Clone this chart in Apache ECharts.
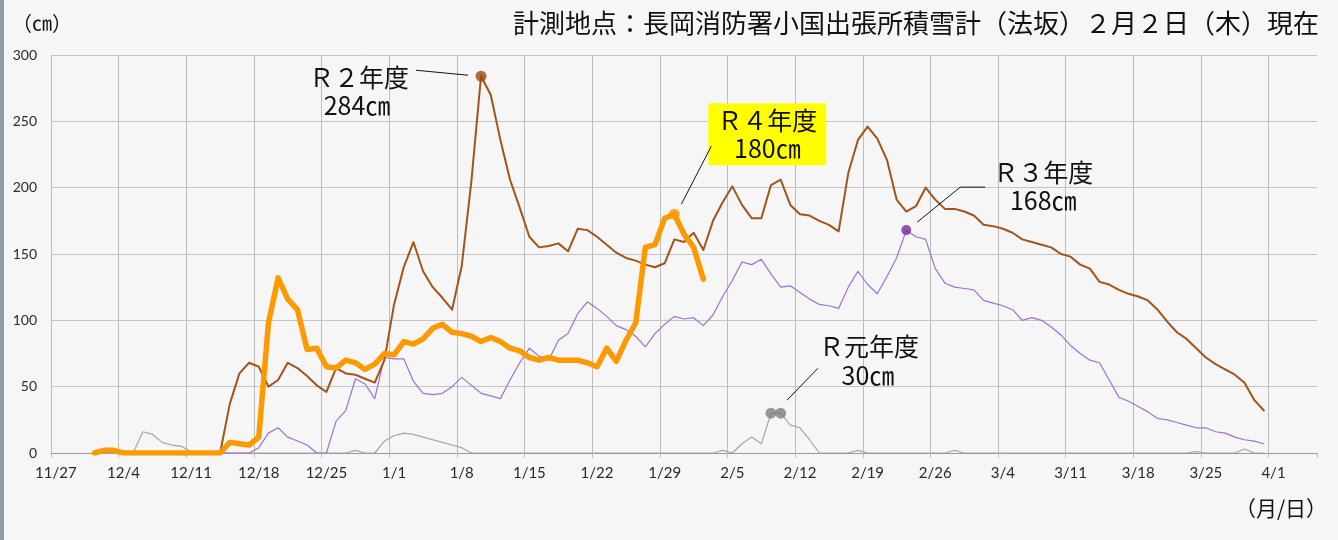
<!DOCTYPE html>
<html>
<head>
<meta charset="utf-8">
<script src="https://cdn.jsdelivr.net/npm/echarts@6/dist/echarts.min.js"></script>
<style>
html, body { margin: 0; padding: 0; background: #f6f6f6; }
#chart { width: 1338px; height: 540px; }
</style>
</head>
<body>
<div id="chart"></div>
<script>
// 日付（2/29 入りのテンプレート、11/27〜4/5）
const monthRanges = [
  [11, 27, 30],
  [12, 1, 31],
  [1, 1, 31],
  [2, 1, 29],
  [3, 1, 31],
  [4, 1, 5]
];
const dates = [];
monthRanges.forEach(([m, from, to]) => {
  for (let d = from; d <= to; d++) dates.push(m + '/' + d);
});

const yTicks = [0, 50, 100, 150, 200, 250, 300];

// R元年度（12/1〜）
const r1Start = '12/1';
const r1 = [
  0, 0, 0, 0, 0, 16, 14, 8,
  6, 5, 1, 0, 0, 0, 0, 0,
  0, 0, 0, 0, 0, 0, 0, 0,
  0, 0, 0, 2, 0, 0, 9, 13,
  15, 14, 12, 10, 8, 6, 4, 0,
  0, 0, 0, 0, 0, 0, 0, 0,
  0, 0, 0, 0, 0, 0, 0, 0,
  0, 0, 0, 0, 0, 0, 0, 0,
  0, 2, 0, 7, 12, 7, 30, 30,
  21, 19, 10, 0, 0, 0, 0, 2,
  0, 0, 0, 0, 0, 0, 0, 0,
  0, 2, 0, 0, 0, 0, 0, 0,
  0, 0, 0, 0, 0, 0, 0, 0,
  0, 0, 0, 0, 0, 0, 0, 0,
  0, 0, 1, 0, 0, 0, 0, 3,
  0, 0
];

// R2年度（12/13〜）
const r2Start = '12/13';
const r2 = [
  0, 0, 37, 60, 68, 65, 50, 55,
  68, 64, 58, 51, 46, 64, 60, 59,
  56, 53, 70, 112, 140, 159, 137, 125,
  117, 108, 141, 205, 284, 270, 236, 206,
  185, 163, 155, 156, 158, 152, 169, 168,
  163, 157, 151, 147, 145, 142, 140, 143,
  161, 159, 166, 153, 175, 189, 201, 187,
  177, 177, 202, 206, 187, 180, 179, 175,
  172, 167, 211, 236, 246, 237, 221, 191,
  182, 186, 200, 191, 184, 184, 182, 179,
  172, 171, 169, 166, 161, 159, 157, 155,
  150, 148, 142, 139, 129, 127, 123, 120,
  118, 115, 108, 99, 91, 86, 79, 72,
  67, 63, 59, 53, 40, 32
];

// R3年度（12/11〜）
const r3Start = '12/11';
const r3 = [
  0, 0, 0, 0, 0, 0, 0, 4,
  15, 19, 12, 9, 6, 0, 0, 24,
  32, 56, 52, 41, 72, 71, 71, 54,
  45, 44, 45, 50, 57, 51, 45, 43,
  41, 55, 68, 79, 73, 70, 85, 90,
  105, 114, 109, 103, 96, 93, 88, 80,
  90, 97, 103, 101, 102, 96, 104, 118,
  130, 144, 142, 146, 135, 125, 126, 121,
  116, 112, 111, 109, 125, 137, 127, 120,
  133, 147, 168, 163, 161, 139, 128, 125,
  124, 123, 115, 113, 111, 108, 100, 102,
  100, 95, 89, 81, 75, 70, 68, 55,
  42, 39, 35, 31, 26, 25, 23, 21,
  19, 19, 16, 15, 12, 10, 9, 7
];

// R4年度（12/1〜2/2）
const r4Start = '12/1';
const r4 = [
  0, 2, 2, 0,
  0, 0, 0, 0, 0, 0, 0, 0, 0, 0,
  8, 7, 6, 12,
  98, 132, 116, 108, 78, 79, 65, 64,
  70, 68, 63, 67, 75, 74, 84, 82,
  86, 94, 97, 91, 90, 88, 84, 87,
  84, 79, 77, 72, 70, 72, 70, 70,
  70, 68, 65, 79, 69, 85, 98, 155,
  157, 177, 180, 165, 155, 131
];

const CJK = '"Noto Sans CJK JP"';

function toSeriesData(start, values) {
  const offset = dates.indexOf(start);
  return dates.map((d, i) => {
    const k = i - offset;
    return k >= 0 && k < values.length ? values[k] : null;
  });
}

function peaks(start, values) {
  const offset = dates.indexOf(start);
  const max = Math.max(...values);
  const out = [];
  values.forEach((v, k) => { if (v === max) out.push([offset + k, v]); });
  return out;
}

const seasons = [
  { name: 'R元年度', start: r1Start, values: r1, color: '#a6a6a6', width: 1.2, dot: '#808080', dotSize: 11 },
  { name: 'R3年度', start: r3Start, values: r3, color: '#a070d0', width: 1.2, dot: '#7030a0', dotSize: 10 },
  { name: 'R2年度', start: r2Start, values: r2, color: '#a3541a', width: 2, dot: '#9c4a0c', dotSize: 11 },
  { name: 'R4年度', start: r4Start, values: r4, color: '#ff9900', width: 5.5, dot: '#ff9900', dotSize: 11 }
];

const series = [];
seasons.forEach((s) => {
  series.push({
    name: s.name,
    type: 'line',
    data: toSeriesData(s.start, s.values),
    symbol: 'none',
    connectNulls: false,
    lineStyle: { color: s.color, width: s.width, cap: 'round', join: 'round' },
    silent: true
  });
});
seasons.forEach((s) => {
  series.push({
    name: s.name + '最大',
    type: 'scatter',
    data: peaks(s.start, s.values),
    symbol: 'circle',
    symbolSize: s.dotSize,
    itemStyle: { color: s.dot },
    z: 5,
    silent: true
  });
});

const chart = echarts.init(document.getElementById('chart'));
chart.setOption({
  animation: false,
  backgroundColor: '#f6f6f6',
  title: {
    text: '計測地点：長岡消防署小国出張所積雪計（法坂）２月２日（木）現在',
    right: 14,
    top: 5,
    textStyle: { fontFamily: CJK, fontSize: 26, fontWeight: 'normal', color: '#111' }
  },
  grid: { left: 51, right: 21, top: 55, bottom: 87, outerBoundsMode: 'none' },
  xAxis: {
    type: 'category',
    data: dates,
    boundaryGap: true,
    axisLine: { lineStyle: { color: '#9a9a9a', width: 1 } },
    axisTick: { show: true, interval: 6, length: 5, lineStyle: { color: '#bdbdbd' } },
    axisLabel: { interval: 6, margin: 13, color: '#2a2a2a', fontFamily: 'Lato', fontSize: 15 },
    splitLine: { show: true, interval: 6, showMaxLine: false, lineStyle: { color: '#bdbdbd', width: 1 } }
  },
  yAxis: {
    type: 'value',
    min: yTicks[0],
    max: yTicks[yTicks.length - 1],
    interval: 50,
    axisLine: { show: false },
    axisTick: { show: false },
    axisLabel: { margin: 14, color: '#2a2a2a', fontFamily: 'Lato', fontSize: 14 },
    splitLine: { lineStyle: { color: '#c4c4c4', width: 1 } }
  },
  series: series
});

// 注記（最大値の位置から配置）
function pt(s) {
  const p = peaks(s.start, s.values)[0];
  return chart.convertToPixel({ xAxisIndex: 0, yAxisIndex: 0 }, p);
}
function txt(x, y, text, size) {
  return {
    type: 'text', x: x, y: y, z: 20,
    style: {
      text: text, fill: '#111', font: size + 'px ' + CJK,
      textAlign: 'center', textVerticalAlign: 'middle', align: 'center', verticalAlign: 'middle'
    }
  };
}
function leader(points) {
  return {
    type: 'polyline', z: 20,
    shape: { points: points },
    style: { stroke: '#111', lineWidth: 1, fill: null }
  };
}

const [p1x, p1y] = pt(seasons[0]);
const [p3x, p3y] = pt(seasons[1]);
const [p2x, p2y] = pt(seasons[2]);
const [p4x, p4y] = pt(seasons[3]);

chart.setOption({
  graphic: [
    { type: 'rect', shape: { x: 0, y: 0, width: 4, height: 540 }, style: { fill: '#8e9aa6' }, z: -1 },
    txt(42, 23, '（㎝）', 20),
    txt(1281, 508, '（月/日）', 21),

    // R2
    txt(p2x - 122, p2y + 1, 'Ｒ２年度', 25),
    txt(p2x - 124, p2y + 29, '284㎝', 25),
    leader([[p2x - 65, p2y - 6], [p2x - 13, p2y - 1]]),

    // R4
    { type: 'rect', z: 19, shape: { x: p4x + 34, y: p4y - 111, width: 118, height: 62 }, style: { fill: '#ffff00' } },
    txt(p4x + 93, p4y - 94, 'Ｒ４年度', 25),
    txt(p4x + 93, p4y - 66, '180㎝', 25),
    leader([[p4x + 37, p4y - 68], [p4x + 7, p4y - 10]]),

    // R3
    txt(p3x + 137, p3y - 58, 'Ｒ３年度', 25),
    txt(p3x + 137, p3y - 30, '168㎝', 25),
    leader([[p3x + 79, p3y - 43], [p3x + 54, p3y - 43], [p3x + 11, p3y - 8]]),

    // R元
    txt(p1x + 98, p1y - 67, 'Ｒ元年度', 25),
    txt(p1x + 97, p1y - 38, '30㎝', 25),
    leader([[p1x + 47, p1y - 45], [p1x + 16, p1y - 13]])
  ]
});
</script>
</body>
</html>
